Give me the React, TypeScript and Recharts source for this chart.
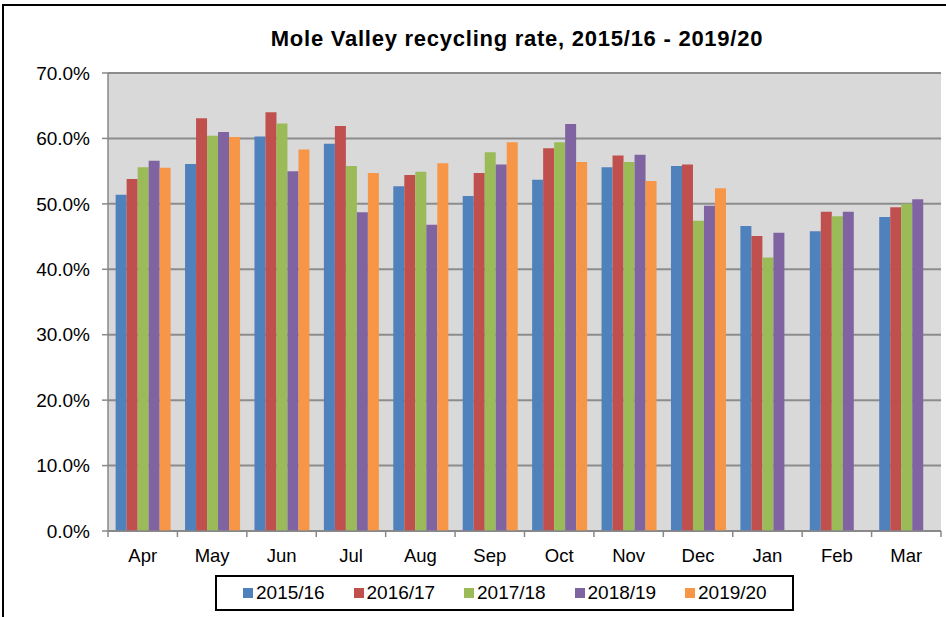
import React from 'react';
import { BarChart, Bar, XAxis, YAxis, CartesianGrid } from 'recharts';

const months = ['Apr', 'May', 'Jun', 'Jul', 'Aug', 'Sep', 'Oct', 'Nov', 'Dec', 'Jan', 'Feb', 'Mar'];
const years = ['2015/16', '2016/17', '2017/18', '2018/19', '2019/20'];
const colors = ['#4f81bd', '#c0504d', '#9bbb59', '#8064a2', '#f79646'];

const rate1516 = [51.4, 56.1, 60.3, 59.2, 52.7, 51.2, 53.7, 55.6, 55.8, 46.6, 45.8, 48.0];
const rate1617 = [53.8, 63.1, 64.0, 61.9, 54.4, 54.7, 58.5, 57.4, 56.0, 45.1, 48.8, 49.5];
const rate1718 = [55.6, 60.4, 62.3, 55.8, 54.9, 57.9, 59.4, 56.4, 47.4, 41.8, 48.1, 50.0];
const rate1819 = [56.6, 61.0, 55.0, 48.7, 46.8, 56.0, 62.2, 57.5, 49.7, 45.6, 48.8, 50.7];
const rate1920 = [55.5, 60.2, 58.3, 54.7, 56.2, 59.4, 56.4, 53.5, 52.4, null, null, null];

const yTicks = [0, 10, 20, 30, 40, 50, 60, 70];

const seriesValues = [rate1516, rate1617, rate1718, rate1819, rate1920];

const data = months.map((m, i) => {
  const row: Record<string, any> = { month: m };
  years.forEach((y, k) => {
    row[y] = seriesValues[k][i];
  });
  return row;
});

const BAND = (941 - 108) / months.length;

function MonthTick(props: any) {
  const { x, y, payload, index } = props;
  const half = payload && payload.offset ? payload.offset : BAND / 2;
  return (
    <g>
      <line x1={x - half} x2={x - half} y1={y} y2={y + 6} stroke="#888" strokeWidth={1.5} />
      {index === months.length - 1 && (
        <line x1={x + half} x2={x + half} y1={y} y2={y + 6} stroke="#888" strokeWidth={1.5} />
      )}
      <text x={x} y={y + 31} textAnchor="middle" fontSize={18.5} fill="#000">
        {payload.value}
      </text>
    </g>
  );
}

export default function App() {
  return (
    <div
      style={{
        position: 'absolute',
        left: 0,
        top: 0,
        width: 946,
        height: 617,
        background: '#fff',
        overflow: 'hidden',
        fontFamily: "'Liberation Sans', Arial, sans-serif",
      }}
    >
      <div
        style={{
          position: 'absolute',
          left: 2,
          top: 4,
          width: 960,
          height: 640,
          border: '2px solid #000',
        }}
      />
      <div
        style={{
          position: 'absolute',
          left: 0,
          width: 1034,
          top: 26,
          textAlign: 'center',
          fontSize: 22,
          fontWeight: 'bold',
          letterSpacing: 0.75,
          color: '#000',
        }}
      >
        Mole Valley recycling rate, 2015/16 - 2019/20
      </div>
      <div style={{ position: 'absolute', left: 0, top: 0 }}>
        <BarChart
          width={946}
          height={617}
          data={data}
          margin={{ top: 73, right: 5, left: 0, bottom: 46 }}
          barGap={0}
          barCategoryGap="11%"
        >
          <CartesianGrid vertical={false} fill="#d9d9d9" stroke="#8c8c8c" strokeWidth={2} />
          <XAxis
            dataKey="month"
            height={40}
            tickLine={false}
            tickSize={0}
            tickMargin={0}
            axisLine={{ stroke: '#888', strokeWidth: 1.5 }}
            tick={<MonthTick />}
            interval={0}
          />
          <YAxis
            width={108}
            domain={[0, 70]}
            ticks={yTicks}
            interval={0}
            tickSize={6}
            tickMargin={12}
            tickLine={{ stroke: '#888', strokeWidth: 1.5 }}
            axisLine={{ stroke: '#888', strokeWidth: 1.5 }}
            tick={{ fill: '#000', fontSize: 19 }}
            tickFormatter={(v: number) => `${v.toFixed(1)}%`}
          />
          {years.map((y, k) => (
            <Bar key={y} dataKey={y} fill={colors[k]} isAnimationActive={false} />
          ))}
        </BarChart>
      </div>
      <div
        style={{
          position: 'absolute',
          left: 215,
          top: 575,
          width: 549,
          height: 32,
          border: '2px solid #000',
          display: 'flex',
          alignItems: 'center',
          paddingLeft: 26,
          boxSizing: 'content-box',
          overflow: 'hidden',
        }}
      >
        {years.map((y, k) => (
          <div key={y} style={{ width: 110.5, display: 'flex', alignItems: 'center', flexShrink: 0 }}>
            <span style={{ width: 10, height: 10, background: colors[k], marginRight: 3, display: 'inline-block' }} />
            <span style={{ fontSize: 19, color: '#000' }}>{y}</span>
          </div>
        ))}
      </div>
    </div>
  );
}
